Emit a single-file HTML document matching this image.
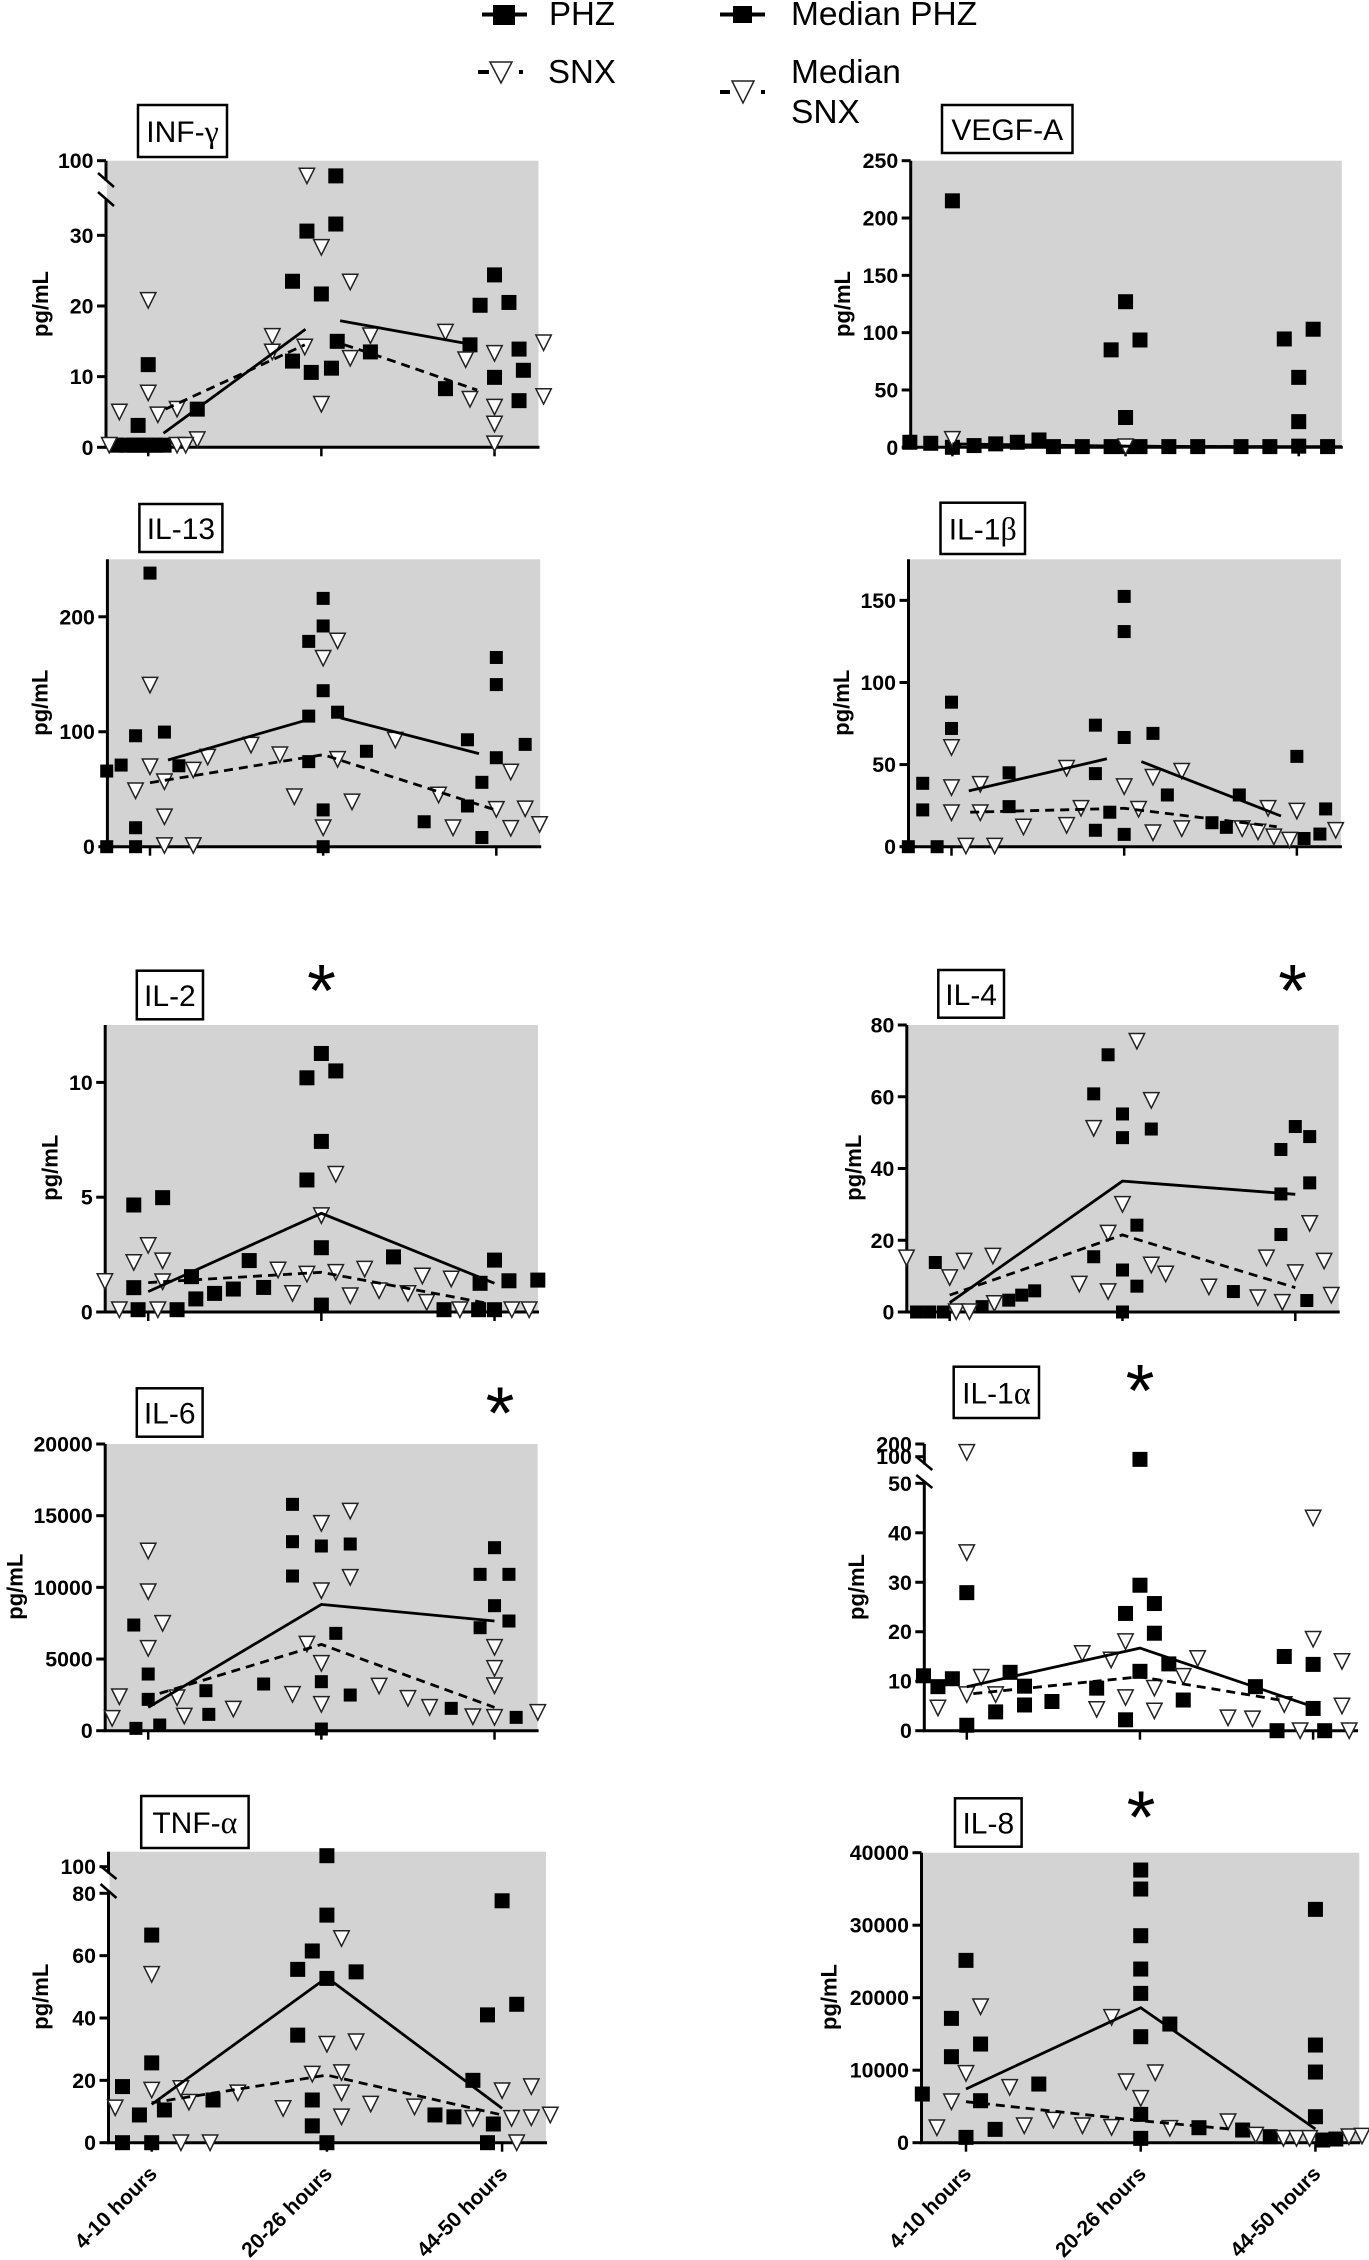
<!DOCTYPE html>
<html>
<head>
<meta charset="utf-8">
<title>Cytokine concentrations by time window</title>
<style>
html,body{margin:0;padding:0;background:#fff;width:1369px;height:2260px;overflow:hidden}
svg{display:block}
text{font-family:"Liberation Sans",sans-serif;fill:#000}
.greek{font-family:"Liberation Serif",serif}
</style>
</head>
<body>
<svg id="chart" xmlns="http://www.w3.org/2000/svg" width="1369" height="2260" viewBox="0 0 1369 2260">
  <rect width="1369" height="2260" fill="#fff"/>
  <g>
    <g>
      <line x1="482" y1="14.5" x2="527" y2="14.5" stroke="#000" stroke-width="4"/>
      <rect x="493" y="5" width="22" height="20" fill="#000"/>
      <text x="549" y="25" font-size="33">PHZ</text>
    </g>
    <g>
      <line x1="478" y1="72" x2="489" y2="72" stroke="#000" stroke-width="4"/>
      <line x1="519" y1="72" x2="523" y2="72" stroke="#000" stroke-width="4"/>
      <polygon points="490,62 512,62 501,83" fill="#fff" stroke="#222" stroke-width="1.5"/>
      <text x="548" y="83" font-size="33">SNX</text>
    </g>
    <g>
      <line x1="720" y1="14.5" x2="765" y2="14.5" stroke="#000" stroke-width="4"/>
      <rect x="733" y="6" width="19" height="17" fill="#000"/>
      <text x="791" y="25" font-size="33.5">Median PHZ</text>
    </g>
    <g>
      <line x1="720" y1="92" x2="730" y2="92" stroke="#000" stroke-width="4"/>
      <line x1="761" y1="92" x2="765" y2="92" stroke="#000" stroke-width="4"/>
      <polygon points="732,81 754,81 743,103" fill="#fff" stroke="#222" stroke-width="1.5"/>
      <text x="791" y="83" font-size="33.5">Median</text>
      <text x="791" y="123" font-size="33.5">SNX</text>
    </g>
  </g>
</svg>
<script>
/* x values are jitter slots: 12 slots per time window; 0, 12, 24 are the three ticks */
const categories=['4-10 hours','20-26 hours','44-50 hours'];
const categorySlots=[0,12,24];

const infTicks=[0,10,20,30,100];
const infPhzX=[13,13,11,10,12,24,23,25,13.1,15.4,10,11.3,12.7,22.3,25.7,26,24,20.6,25.7,0,3.4,-0.7,-2.2,-1.5,-1,-0.5,0,0.5,1.1];
const infPhzY=[75,31.6,30.6,23.5,21.7,24.4,20.1,20.5,15,13.5,12.2,10.6,11.2,14.5,13.9,10.9,9.9,8.3,6.6,11.7,5.4,3.1,0.3,0.3,0.3,0.3,0.3,0.3,0.3];
const infSnxX=[11,12,14,0,8.6,8.6,10.85,14,15.4,20.6,22,24,27.4,27.4,22.3,24,24,24,12,0,-2,0.67,2,3.4,-2.7,2,2.6];
const infSnxY=[75,28.3,23.4,20.8,15.7,13.5,14.2,12.6,15.8,16.3,12.4,13.3,14.8,7.2,6.8,5.7,3.3,0.5,6.1,7.7,5,4.6,5.4,1.1,0.3,0.3,0.3];
const infMedPhzX=[1.06,10.9,null,13.3,22];
const infMedPhzY=[2,16.7,null,17.9,14.7];
const infMedSnxX=[1.2,10.85,null,13.6,15.4,22.8];
const infMedSnxY=[5.4,14.5,null,14.5,13.3,8.1];

const vegfTicks=[0,50,100,150,200,250];
const vegfPhzX=[0,12,11,13,12,23,25,24,24,-2.95,-1.5,0,1.5,3,4.5,6,7,9,11,12,13,15,17,20,22,24,26];
const vegfPhzY=[215,127,85,93.6,26,94.5,103,61,22.4,4.4,3.5,0,1.5,3,4.4,6.4,0.6,0.6,0.6,0.6,0.6,0.6,0.6,0.6,0.6,1,0.6];
const vegfSnxX=[0,12];
const vegfSnxY=[7,0.5];
const vegfMedPhzX=[0,12,24,27];
const vegfMedPhzY=[3,1,0.5,0.5];
const vegfMedSnxX=[0,12,24];
const vegfMedSnxY=[2,1,0.3];

const il13Ticks=[0,100,200];
const il13PhzX=[0,12,12,11,12,13,11,24,24,-1,1,-2,-3,2,11,15,22,24,26,23,22,12,19,-1,23,-3,-1,12];
const il13PhzY=[238,216,192,178.6,135.7,117,113.6,164.6,141,96.5,99.7,71,65.8,70.4,74,83,93,77.4,89,56,35.4,32,21.7,16.5,8,0,0,0];
const il13SnxX=[13,12,0,0,-1,1,1,1,3,3,4,7,9,13,10,14,17,20,21,12,25,24,26,25,27];
const il13SnxY=[179,164,140.6,69.6,48.7,56.5,26,1,1,66.7,78,88.4,80,76,43.5,39,92.8,45,16.5,16.5,65,32.5,33,16,19.4];
const il13MedPhzX=[1.25,10.7,null,13.2,22.8];
const il13MedPhzY=[75.4,109.6,null,112,81];
const il13MedSnxX=[0,12,23.8];
const il13MedSnxY=[55.7,80,32.5];

const il1bTicks=[0,50,100,150];
const il1bPhzX=[12,12,0,0,10,12,14,24,10,4,-2,-2,4,15,20,11,10,12,18.1,19.1,26,25.6,24.5,-3,-1];
const il1bPhzY=[152.4,131,88,72,74,66.5,69,55,44.5,45,38.6,22.4,24.4,31.5,31.5,21,10,7.5,14.6,11.8,23,7.7,5,0,0];
const il1bSnxX=[0,0,0,2,2,1,3,5,8,8,9,12,13,14,14,16,16,20.2,21.3,22,22.4,23.5,24,26.7];
const il1bSnxY=[60.4,36,20.7,38,20.7,0.4,0.4,12,47.8,13,23.4,36.6,22.8,42.3,8.5,46,11,11,9,23.4,6,4,21.7,10];
const il1bMedPhzX=[1.2,10.8,null,13.2,22.9];
const il1bMedPhzY=[34,53.5,null,51.8,18.7];
const il1bMedSnxX=[1.3,12,22.6];
const il1bMedSnxY=[21,23.4,12.2];

const il2Ticks=[0,5,10];
const il2PhzX=[12,13,11,12,11,-1,1,12,7,17,24,3,-1,8,5.9,4.6,3.3,23,25,27,12,-0.7,2,20.5,22.9,24];
const il2PhzY=[11.26,10.5,10.2,7.43,5.75,4.66,4.98,2.8,2.24,2.4,2.26,1.54,1.06,1.07,1,0.81,0.57,1.25,1.36,1.39,0.3,0.1,0.1,0.1,0.1,0.1];
const il2SnxX=[13,12,0,-1,1,-3,1,9,11,13,15,10,14,16,18,19,21,19.3,-2,0.67,21.6,25.2,26.4];
const il2SnxY=[6,4.2,2.9,2.16,2.23,1.33,1.32,1.83,1.65,1.73,1.87,0.81,0.71,0.93,0.81,1.57,1.44,0.42,0.1,0.1,0.1,0.1,0.1];
const il2MedPhzX=[0,12,24];
const il2MedPhzY=[0.89,4.3,1.25];
const il2MedSnxX=[0,12,23.5];
const il2MedSnxY=[1.28,1.73,0.38];

const il4Ticks=[0,20,40,60,80];
const il4PhzX=[11,10,12,12,14,24,25,23,25,23,23,13,10,12,13,19.7,24.8,-1,5.9,5,4.1,2.25,-2.3,-1.4,-0.45,12];
const il4PhzY=[71.7,60.8,55.2,48.6,51,51.7,48.9,45.3,36,32.9,21.6,24.2,15.4,11.7,7.2,5.7,3.2,13.8,5.9,4.7,3.3,1.5,0,0,0,0];
const il4SnxX=[13,14,10,12,11,25,-3,1,3,0,0.45,1.37,3.1,9,11,14,15,18,22,24,26,21.4,23.1,26.5];
const il4SnxY=[75.5,59,51.2,30,22,24.7,15.1,14.2,15.6,9.6,0.1,0.1,2.4,7.8,5.7,13.1,10.6,7,15.1,11,14.2,4,2.7,4.7];
const il4MedPhzX=[0,12,24];
const il4MedPhzY=[2.6,36.5,32.8];
const il4MedSnxX=[0,12,24];
const il4MedSnxY=[4.7,21.5,6.8];

const il6Ticks=[0,5000,10000,15000,20000];
const il6PhzX=[10,10,12,14,10,24,23,25,24,25,23,-1,13,0,0,12,8,4,14,4.2,21,25.5,-0.85,0.8,12];
const il6PhzY=[15790,13186,12884,13023,10790,12767,10907,10907,8721,7651,7186,7372,6791,3953,2186,3419,3256,2791,2488,1140,1558,930,163,395,116];
const il6SnxX=[14,12,0,0,1,0,14,12,11,12,24,24,24,-2,2,-2.5,2.5,5.9,10,12,16,18,19.5,22.5,24,27];
const il6SnxY=[15325,14465,12535,9700,7488,5744,10698,9767,6047,4698,5814,4349,3140,2372,2302,860,1023,1512,2535,1837,3116,2256,1628,977,930,1279];
const il6MedPhzX=[0,12,24];
const il6MedPhzY=[1628,8814,7651];
const il6MedSnxX=[0.8,12,24];
const il6MedSnxY=[2605,6023,1628];

const il1aTicks=[0,10,20,30,40,50,100,200];
const il1aPhzX=[12,12,13,11,13,0,-3,-1,-2,3,4,9,14,12,20,22,24,24,2,4,5.9,15,0,11,21.5,24.8];
const il1aPhzY=[79,29.4,25.7,23.7,19.7,27.9,11.1,10.5,8.9,11.8,9,8.6,13.5,12,8.9,15,13.4,4.5,3.8,5.2,5.9,6.2,1.1,2.2,0,0];
const il1aSnxX=[0,0,24,24,11,8,10,16,26,1,15,13,0,2,11,22,26,-2,9,13,18.1,19.8,23.1,26.5];
const il1aSnxY=[134,36,43,18.5,18,15.6,14.3,14.6,14,10.8,11,8.6,7.3,7.3,6.7,5.3,5,4.6,4.3,4,2.6,2.4,0,0];
const il1aMedPhzX=[0,12,24];
const il1aMedPhzY=[8.9,16.7,4.85];
const il1aMedSnxX=[0.45,12,21.7];
const il1aMedSnxY=[7.5,10.9,6.2];

const tnfTicks=[0,20,40,60,80,100];
const tnfPhzX=[12,12,24,0,11,10,14,12,25,23,10,0,-2,22,11,4.2,0.87,-0.84,19.4,20.7,23.4,11,-2,0,12,23];
const tnfPhzY=[104,73,77.6,66.6,61.5,55.6,54.8,52.7,44.4,41,34.5,25.6,18,20,13.7,13.7,10.5,8.9,8.9,8.3,6,5.4,0,0,0,0];
const tnfSnxX=[13,0,12,14,11,13,0,2,13,2.55,5.9,-2.5,9,15,18,24,26,13,22,24.65,26,27.3,2,4,25];
const tnfSnxY=[65.5,54,31.6,32.4,22,22.5,16.9,17.4,16,13,16,11.2,11,12.4,11.5,16.7,18,8.3,7.8,7.8,8,8.9,0,0,0];
const tnfMedPhzX=[0,12,24];
const tnfMedPhzY=[12.3,53,11];
const tnfMedSnxX=[0,12,24];
const tnfMedSnxY=[12.8,21.7,8.9];

const il8Ticks=[0,10000,20000,30000,40000];
const il8PhzX=[12,12,12,12,12,12,14,0,-1,-1,1,24,24,24,24,5,-3,1,2,0,12,12,16,19,20.9,24.5,25.4];
const il8PhzY=[37609,34989,28552,23954,20598,14621,16368,25149,17149,11862,13609,32184,13471,9747,3586,8092,6713,5793,1839,735,3908,598,2069,1747,828,368,506];
const il8SnxX=[1,10,0,13,11,3,12,-1,-2,4,6,8,10,14,18,19.9,21.8,22.7,23.6,26.3,27.2];
const il8SnxY=[18759,17287,9563,9655,8414,7632,6115,5655,2069,2345,3126,2345,2115,1977,2897,1057,598,598,598,828,920];
const il8MedPhzX=[0,12,24];
const il8MedPhzY=[7402,18621,1885];
const il8MedSnxX=[0,12,18.1];
const il8MedSnxY=[5655,3034,1885];

const panels=[
 {id:'inf-gamma',title:'INF-',greek:'γ',box:[138,105,89,52],left:106,right:538.5,top:160.7,bottom:447.3,tick0:148.2,slot:14.43,sq:15,grey:1,
  low:35,lowPx:200,up:[60,185,100,160.7],brk:[173,187,192,206],ticks:infTicks,phzX:infPhzX,phzY:infPhzY,snxX:infSnxX,snxY:infSnxY,mpX:infMedPhzX,mpY:infMedPhzY,msX:infMedSnxX,msY:infMedSnxY,yt:[40,304]},
 {id:'vegf-a',title:'VEGF-A',box:[942,105,130.5,48],left:910.7,right:1341.8,top:160.7,bottom:447.3,tick0:952.4,slot:14.43,sq:15,grey:1,
  low:250,lowPx:160.7,ticks:vegfTicks,phzX:vegfPhzX,phzY:vegfPhzY,snxX:vegfSnxX,snxY:vegfSnxY,mpX:vegfMedPhzX,mpY:vegfMedPhzY,msX:vegfMedSnxX,msY:vegfMedSnxY,yt:[842,304]},
 {id:'il-13',title:'IL-13',box:[139.4,504,83,48],left:107.4,right:540.2,top:559.3,bottom:846.7,tick0:150,slot:14.43,sq:13,grey:1,
  low:250,lowPx:559.3,ticks:il13Ticks,phzX:il13PhzX,phzY:il13PhzY,snxX:il13SnxX,snxY:il13SnxY,mpX:il13MedPhzX,mpY:il13MedPhzY,msX:il13MedSnxX,msY:il13MedSnxY,yt:[39.5,702.7]},
 {id:'il-1-beta',title:'IL-1',greek:'β',box:[940.5,502.7,84.5,51.3],left:908.5,right:1340.9,top:559.3,bottom:846.7,tick0:951.5,slot:14.39,sq:13,grey:1,
  low:175,lowPx:559.3,ticks:il1bTicks,phzX:il1bPhzX,phzY:il1bPhzY,snxX:il1bSnxX,snxY:il1bSnxY,mpX:il1bMedPhzX,mpY:il1bMedPhzY,msX:il1bMedSnxX,msY:il1bMedSnxY,yt:[841,702.7]},
 {id:'il-2',title:'IL-2',box:[136.8,970.7,66.2,48.6],left:105.2,right:538,top:1025,bottom:1312,tick0:148.2,slot:14.43,sq:15,grey:1,star:[321.5,980],
  low:12.5,lowPx:1025,ticks:il2Ticks,phzX:il2PhzX,phzY:il2PhzY,snxX:il2SnxX,snxY:il2SnxY,mpX:il2MedPhzX,mpY:il2MedPhzY,msX:il2MedSnxX,msY:il2MedSnxY,yt:[49.5,1167.7]},
 {id:'il-4',title:'IL-4',box:[938.3,970,65.7,47.7],left:906.8,right:1338.7,top:1025,bottom:1312,tick0:949.7,slot:14.4,sq:13,grey:1,star:[1292.6,980],
  low:80,lowPx:1025,ticks:il4Ticks,phzX:il4PhzX,phzY:il4PhzY,snxX:il4SnxX,snxY:il4SnxY,mpX:il4MedPhzX,mpY:il4MedPhzY,msX:il4MedSnxX,msY:il4MedSnxY,yt:[853,1167.7]},
 {id:'il-6',title:'IL-6',box:[136.8,1388.3,65.8,48.4],left:105.2,right:537.6,top:1444,bottom:1730.7,tick0:148.2,slot:14.43,sq:13,grey:1,star:[500,1402.7],
  low:20000,lowPx:1444,ticks:il6Ticks,phzX:il6PhzX,phzY:il6PhzY,snxX:il6SnxX,snxY:il6SnxY,mpX:il6MedPhzX,mpY:il6MedPhzY,msX:il6MedSnxX,msY:il6MedSnxY,yt:[14.5,1586.7]},
 {id:'il-1-alpha',title:'IL-1',greek:'α',box:[953.7,1366.7,85.3,51.3],left:924.3,right:1357,top:1444,bottom:1730.7,tick0:966.8,slot:14.43,sq:15,grey:0,star:[1140,1380],
  low:50,lowPx:1483.3,up:[100,1456.7,200,1444],brk:[1456.7,1470,1475,1488],ticks:il1aTicks,phzX:il1aPhzX,phzY:il1aPhzY,snxX:il1aSnxX,snxY:il1aSnxY,mpX:il1aMedPhzX,mpY:il1aMedPhzY,msX:il1aMedSnxX,msY:il1aMedSnxY,yt:[856,1587]},
 {id:'tnf-alpha',title:'TNF-',greek:'α',box:[141.2,1796,107.4,52],left:108.5,right:546,top:1851.7,bottom:2142.7,tick0:151.7,slot:14.6,sq:15,grey:1,xlab:1,
  low:80,lowPx:1893.3,up:[100,1866.7,104,1855.7],brk:[1866,1879,1884,1898],ticks:tnfTicks,phzX:tnfPhzX,phzY:tnfPhzY,snxX:tnfSnxX,snxY:tnfSnxY,mpX:tnfMedPhzX,mpY:tnfMedPhzY,msX:tnfMedSnxX,msY:tnfMedSnxY,yt:[40,1996.7]},
 {id:'il-8',title:'IL-8',box:[955,1798.3,66.6,48.4],left:921.5,right:1359.3,top:1852.7,bottom:2142.7,tick0:966,slot:14.56,sq:15,grey:1,xlab:1,star:[1141,1806.7],
  low:40000,lowPx:1852.7,ticks:il8Ticks,phzX:il8PhzX,phzY:il8PhzY,snxX:il8SnxX,snxY:il8SnxY,mpX:il8MedPhzX,mpY:il8MedPhzY,msX:il8MedSnxX,msY:il8MedSnxY,yt:[828.7,1997]}
];

const NS='http://www.w3.org/2000/svg';
const root=document.getElementById('chart');
function mk(tag,attrs,parent,txt){
  const e=document.createElementNS(NS,tag);
  for(const k in attrs)e.setAttribute(k,attrs[k]);
  if(txt!==undefined)e.textContent=txt;
  parent.appendChild(e);
  return e;
}
function xScale(p,s){return p.tick0+s*p.slot;}
function yScale(p,v){
  if(v<=p.low)return p.bottom+(p.lowPx-p.bottom)*v/p.low;
  const u=p.up;
  return u[1]+(u[3]-u[1])*(v-u[0])/(u[2]-u[0]);
}
function medianPath(p,xs,ys){
  let d='',pen='M';
  xs.forEach((x,i)=>{
    if(x===null){pen='M';return;}
    d+=pen+xScale(p,x).toFixed(1)+' '+yScale(p,ys[i]).toFixed(1)+' ';
    pen='L';
  });
  return d;
}

panels.forEach(p=>{
  const g=mk('g',{},root);
  
  

  if(p.grey){
    const bg=mk('rect',{x:p.left+1,y:p.top,width:p.right-p.left-1,height:p.bottom-p.top,fill:'#d3d3d3'},g);
    
    
  }

  /* y axis */
  const segs=p.brk?[[p.top,(p.brk[0]+p.brk[1])/2],[(p.brk[2]+p.brk[3])/2,p.bottom]]:[[p.top,p.bottom]];
  segs.forEach(s=>{
    const a=mk('line',{x1:p.left,x2:p.left,y1:s[0],y2:s[1]+1,stroke:'#000','stroke-width':3},g);
    
    
  });
  if(p.brk){
    [[p.brk[0],p.brk[1]],[p.brk[2],p.brk[3]]].forEach(b=>{
      const m=mk('line',{x1:p.left-8,x2:p.left+8,y1:b[0],y2:b[1],stroke:'#000','stroke-width':2.5},g);
      
      
    });
  }
  p.ticks.forEach(t=>{
    const y=yScale(p,t);
    const m=mk('line',{x1:p.left-9,x2:p.left,y1:y,y2:y,stroke:'#000','stroke-width':3},g);
    
    
    const l=mk('text',{x:p.left-12.5,y:y+7.5,'text-anchor':'end','font-size':21.3,'font-weight':'bold'},g,String(t));
    
    
  });

  /* x axis */
  const xa=mk('line',{x1:p.left-1.5,x2:p.right+1,y1:p.bottom,y2:p.bottom,stroke:'#000','stroke-width':3},g);
  
  
  categorySlots.forEach((s,i)=>{
    const x=xScale(p,s);
    const m=mk('line',{x1:x,x2:x,y1:p.bottom,y2:p.bottom+9,stroke:'#000','stroke-width':2.5},g);
    
    
    if(p.xlab){
      const bx=x+6.5,by=2175;
      const l=mk('text',{transform:'translate('+bx+' '+by+') rotate(-45)','text-anchor':'end','font-size':21,'font-weight':'bold'},g,categories[i]);
      
      
    }
  });

  /* y axis title */
  const yt=mk('text',{transform:'translate('+(p.yt[0]+8)+' '+p.yt[1]+') rotate(-90)','text-anchor':'middle','font-size':22,'font-weight':'bold'},g,'pg/mL');
  
  

  /* title box */
  const b=p.box;
  const tb=mk('rect',{x:b[0],y:b[1],width:b[2],height:b[3],fill:'#fff',stroke:'#000','stroke-width':2.5},g);
  
  
  const tt=mk('text',{x:b[0]+b[2]/2,y:b[1]+b[3]/2+11,'text-anchor':'middle','font-size':30},g,p.title);
  
  
  if(p.greek){
    const gk=mk('tspan',{class:'greek','font-size':32},tt,p.greek);
    
    
  }

  /* significance star */
  if(p.star){
    const st=mk('text',{x:p.star[0],y:p.star[1]+36,'text-anchor':'middle','font-size':74},g,'*');
    
    
  }

  /* PHZ points */
  p.phzX.forEach((x,i)=>{
    const cx=xScale(p,x),cy=yScale(p,p.phzY[i]),w=p.sq;
    const r=mk('rect',{x:cx-w/2,y:cy-w/2,width:w,height:w,fill:'#000'},g);
    
    
  });
  /* SNX points */
  p.snxX.forEach((x,i)=>{
    const cx=xScale(p,x),cy=yScale(p,p.snxY[i]);
    const t=mk('polygon',{points:(cx-7.7)+','+(cy-7.7)+' '+(cx+7.7)+','+(cy-7.7)+' '+cx+','+(cy+7.7),fill:'#fff',stroke:'#222','stroke-width':1.5},g);
    
    
  });
  /* medians */
  const mp=mk('path',{d:medianPath(p,p.mpX,p.mpY),fill:'none',stroke:'#000','stroke-width':2.8},g);
  
  
  const ms=mk('path',{d:medianPath(p,p.msX,p.msY),fill:'none',stroke:'#000','stroke-width':2.8,'stroke-dasharray':'9 6'},g);
  
  
});
</script>
</body>
</html>
